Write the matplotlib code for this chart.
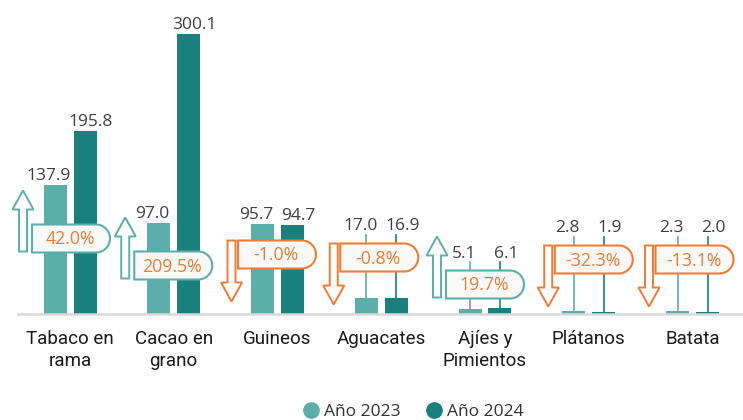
#!/usr/bin/env python3
import numpy as np
import matplotlib
matplotlib.use('Agg')
import matplotlib.pyplot as plt
from matplotlib.lines import Line2D
from matplotlib.patches import Polygon
from matplotlib.transforms import ScaledTranslation

CATEGORIES = ['Tabaco en\nrama', 'Cacao en\ngrano', 'Guineos', 'Aguacates',
              'Ajíes y\nPimientos', 'Plátanos', 'Batata']
VALUES_2023 = [137.9, 97.0, 95.7, 17.0, 5.1, 2.8, 2.3]
VALUES_2024 = [195.8, 300.1, 94.7, 16.9, 6.1, 1.9, 2.0]
PCT_CHANGE = [42.0, 209.5, -1.0, -0.8, 19.7, -32.3, -13.1]
SERIES_LABELS = ['Año 2023', 'Año 2024']

# callout placement in pixels, relative to group centre / baseline
BOX_TOP_PX = [89, 62, 73, 70, 43, 68, 68]
BOX_LEFT_PX = [-38, -39.5, -39.5, -41, -39, -34, -37]

C23 = '#5BAFAB'
C24 = '#18807D'
ORANGE = '#F27B35'
TEXT = '#3F3F3F'

W_PX, H_PX = 743, 420
DPI = 100
X0_PX, STEP_PX = 70, 103.75      # first group centre, spacing
BASE_PX = 313.5                   # baseline, from top
PX_PER_UNIT = 0.9314
BAR_W_PX, BAR_OFF_PX = 23, 15
LABEL_SPREAD_PX = 6               # value labels sit a bit outward of the bars
BOX_W, BOX_H = 78, 28


def box_vertices(left, top):
    r = BOX_H / 2
    bottom = top - BOX_H
    theta = np.linspace(-np.pi / 2, np.pi / 2, 31)
    arc = np.column_stack([left + BOX_W - r + r * np.cos(theta),
                           bottom + r + r * np.sin(theta)])
    return np.vstack([[left, bottom], arc, [left, top]])


def arrow_vertices(xc, start, up, length=61, shaft=8, head_w=21, head_l=19):
    s = 1 if up else -1
    neck = start + s * (length - head_l)
    tip = start + s * length
    return np.array([
        [xc - shaft / 2, start], [xc + shaft / 2, start],
        [xc + shaft / 2, neck], [xc + head_w / 2, neck],
        [xc, tip], [xc - head_w / 2, neck], [xc - shaft / 2, neck],
    ])


def main():
    fig = plt.figure(figsize=(W_PX / DPI, H_PX / DPI), dpi=DPI)
    ax = fig.add_axes([0, 0, 1, 1])
    ax.set_xlim(-X0_PX / STEP_PX, (W_PX - X0_PX) / STEP_PX)
    ax.set_ylim(-(H_PX - BASE_PX) / PX_PER_UNIT, BASE_PX / PX_PER_UNIT)
    ax.axis('off')

    x = np.arange(len(CATEGORIES))
    off = BAR_OFF_PX / STEP_PX
    bw = BAR_W_PX / STEP_PX
    ax.bar(x - off, VALUES_2023, width=bw, color=C23, zorder=2)
    ax.bar(x + off, VALUES_2024, width=bw, color=C24, zorder=2)
    ax.axhline(0, xmin=18 / W_PX, xmax=1, color='#D9D9D9', lw=1.8, zorder=3)

    val_font = dict(family=['Open Sans', 'DejaVu Sans'], fontsize=12.5, color=TEXT)
    for i, xc in enumerate(x):
        tr = fig.dpi_scale_trans + ScaledTranslation(xc, 0, ax.transData)
        box_top = BOX_TOP_PX[i]
        left = BOX_LEFT_PX[i]
        up = PCT_CHANGE[i] >= 0
        edge = C23 if up else ORANGE

        # arrow beside the callout
        if up:
            arr = arrow_vertices(left - 9, box_top - BOX_H + 1, True)
        else:
            arr = arrow_vertices(left - 6.5, box_top, False)
        ax.add_patch(Polygon(arr / DPI, closed=True, transform=tr, fc='white',
                             ec=edge, lw=1.4, joinstyle='miter', zorder=4))
        ax.add_patch(Polygon(box_vertices(left, box_top) / DPI, closed=True,
                             transform=tr, fc='#F9F9F7', ec=edge, lw=1.5,
                             joinstyle='miter', zorder=5))
        ax.annotate(f'{PCT_CHANGE[i]:.1f}%', xy=(xc, 0),
                    xytext=(left + BOX_W / 2 - 1, box_top - BOX_H / 2 - 1),
                    textcoords='offset pixels', ha='center', va='center',
                    family=['Open Sans', 'DejaVu Sans'], fontsize=12.8,
                    color=ORANGE, zorder=6)

        # value labels, lifted above the callout when the bar is short
        pairs = ((VALUES_2023[i], -off, C23, -LABEL_SPREAD_PX),
                 (VALUES_2024[i], off, C24, LABEL_SPREAD_PX))
        for v, dx, col, nudge in pairs:
            bar_px = v * PX_PER_UNIT
            if bar_px >= box_top:
                ax.annotate(f'{v:.1f}', xy=(xc + dx, v), xytext=(nudge, 5),
                            textcoords='offset pixels', ha='center',
                            va='baseline', zorder=6, **val_font)
            else:
                lab_px = box_top + 13
                ax.annotate(f'{v:.1f}', xy=(xc + dx, 0), xytext=(nudge, lab_px),
                            textcoords='offset pixels', ha='center',
                            va='baseline', zorder=6, **val_font)
                ax.plot([xc + dx, xc + dx],
                        [v, (lab_px - 4) / PX_PER_UNIT],
                        color=col, lw=1.2, zorder=1)

        ax.annotate(CATEGORIES[i], xy=(xc, 0), xytext=(0, -16),
                    textcoords='offset pixels', ha='center', va='top',
                    family=['Roboto', 'DejaVu Sans'], fontsize=13.5,
                    color='#1A1A1A', linespacing=1.3)

    handles = [Line2D([], [], ls='none', marker='o', ms=11, mfc=c, mec=c)
               for c in (C23, C24)]
    fig.legend(handles, SERIES_LABELS, loc='center', ncol=2, frameon=False,
               bbox_to_anchor=(0.5556, 0.019), handlelength=1.0,
               handletextpad=0.25, columnspacing=1.4, borderpad=0,
               prop=dict(family=['Open Sans', 'DejaVu Sans'], size=12.5),
               labelcolor='#333333')

    fig.savefig('out.png', dpi=DPI)


if __name__ == '__main__':
    main()
